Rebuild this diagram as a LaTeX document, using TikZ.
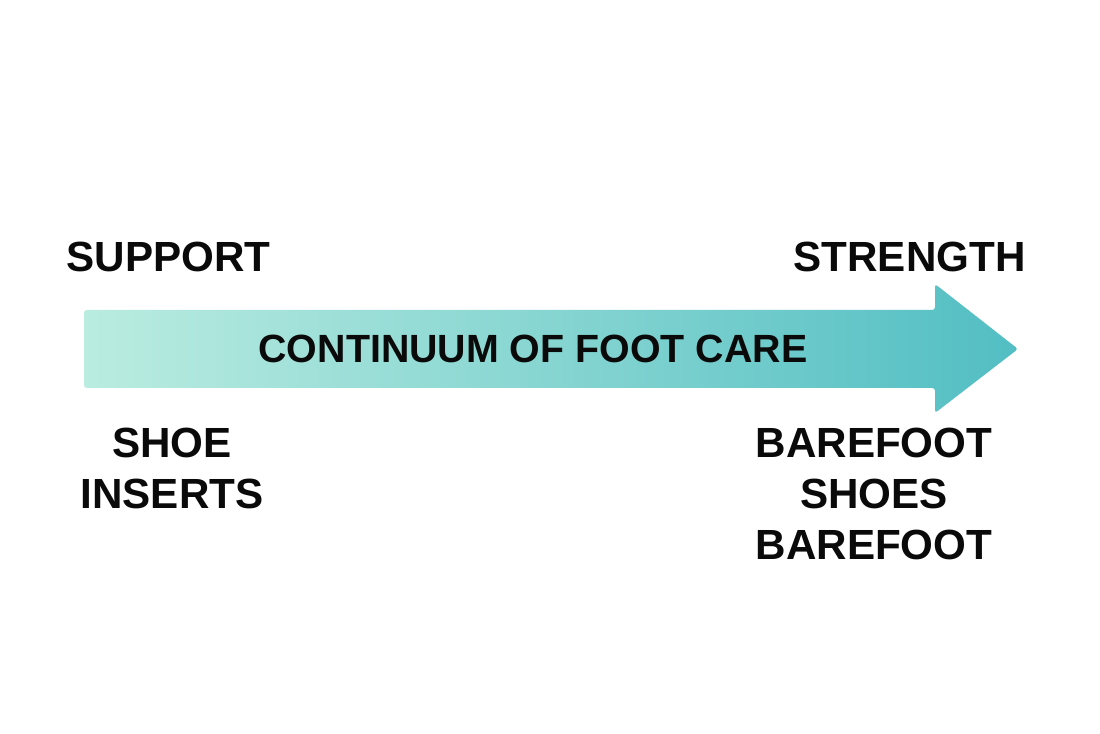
\documentclass[tikz,border=0pt]{standalone}
\usepackage{fontspec}
\setmainfont{Liberation Sans}
\usepackage{tikz}
\usetikzlibrary{positioning, shapes, arrows.meta}
\definecolor{MintLight}{RGB}{186, 236, 224}
\definecolor{TealDark}{RGB}{82, 190, 195}
\definecolor{TextBlack}{RGB}{10, 10, 10}

\begin{document}
\begin{tikzpicture}[
    label/.style={text=TextBlack, font=\bfseries\fontsize{12}{14.6}\selectfont, align=center, inner sep=0pt},
    title/.style={text=TextBlack, font=\bfseries\fontsize{11.2}{13}\selectfont, inner sep=0pt},
    bigarrow/.style={left color=MintLight, right color=TealDark, rounded corners=0.8pt}
  ]
    \useasboundingbox (0,0) rectangle (11,7.33);
    \fill[white] (0,0) rectangle (11,7.33);

    % the continuum arrow
    \shade[bigarrow] (0.84,3.45) -- (0.84,4.23) -- (9.35,4.23) -- (9.35,4.49)
      -- (10.18,3.84) -- (9.35,3.20) -- (9.35,3.45) -- cycle;

    \node[title] (care) at (5.33,3.84) {CONTINUUM OF FOOT CARE};
    \node[label] (support) at (1.685,4.76) {SUPPORT};
    \node[label] (strength) at (9.095,4.76) {STRENGTH};
    \node[label] (inserts) at (1.72,2.645) {SHOE\\INSERTS};
    \node[label] (barefoot) at (8.74,2.39) {BAREFOOT\\SHOES\\BAREFOOT};
  \end{tikzpicture}
\end{document}
